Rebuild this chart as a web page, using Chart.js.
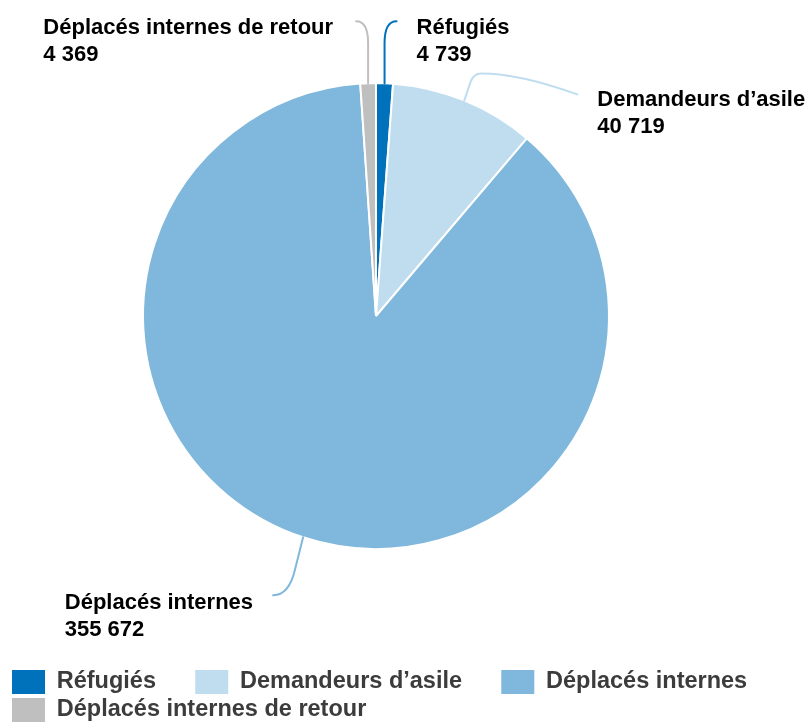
<!DOCTYPE html>
<html>
<head>
<meta charset="utf-8">
<script src="https://cdn.jsdelivr.net/npm/chart.js@4"></script>
<style>
  body { margin: 0; background: #fff; }
  canvas { display: block; }
</style>
</head>
<body>
<canvas id="myChart" width="811" height="726"></canvas>
<script>
const categories = ["Réfugiés", "Demandeurs d’asile", "Déplacés internes", "Déplacés internes de retour"];
const values = [4739, 40719, 355672, 4369];
const colors = ["#0072BC", "#BFDDEF", "#7FB8DC", "#BFBFBF"];

// leader line shapes, relative to the slice's outer midpoint
const callouts = [
  { path: [[0, -40], [0, -62, 12, -62]], side: "right", gap: 20, dy: 13 },
  { path: [[6, -18], [9, -27, 17, -27], [55, -27, 113, -6]], side: "right", gap: 20, dy: 12 },
  { path: [[-8, 32], [-14, 58, -30, 58]], side: "left", gap: 20, dy: 14 },
  { path: [[0, -40], [0, -62, -12, -62]], side: "left", gap: 23, dy: 13 },
];

function fmt(n) {
  return String(n).replace(/\B(?=(\d{3})+(?!\d))/g, " ");
}

const calloutPlugin = {
  id: "callouts",
  afterLayout(chart) {
    const cx = 376, cy = 316, r = 234;
    Object.assign(chart.chartArea, {
      left: cx - r, right: cx + r, top: cy - r, bottom: cy + r, width: 2 * r, height: 2 * r,
    });
    chart.legend.top += 6;
    chart.legend.bottom += 6;
  },
  afterDatasetsDraw(chart) {
    const ctx = chart.ctx;
    const meta = chart.getDatasetMeta(0);
    meta.data.forEach((arc, i) => {
      const p = arc.getProps(["x", "y", "startAngle", "endAngle", "outerRadius"], true);
      const mid = (p.startAngle + p.endAngle) / 2;
      const ax = p.x + Math.cos(mid) * p.outerRadius;
      const ay = p.y + Math.sin(mid) * p.outerRadius;
      const c = callouts[i];
      ctx.save();
      ctx.strokeStyle = colors[i];
      ctx.lineWidth = 2;
      ctx.lineCap = "round";
      ctx.beginPath();
      ctx.moveTo(ax, ay);
      c.path.forEach((s) => {
        if (s.length === 2) ctx.lineTo(ax + s[0], ay + s[1]);
        else ctx.quadraticCurveTo(ax + s[0], ay + s[1], ax + s[2], ay + s[3]);
      });
      ctx.stroke();
      const last = c.path[c.path.length - 1];
      const ex = ax + last[last.length - 2];
      const ey = ay + last[last.length - 1];
      ctx.font = 'bold 22px "Liberation Sans", Arial, sans-serif';
      ctx.fillStyle = "#000";
      ctx.textAlign = "left";
      ctx.textBaseline = "alphabetic";
      const lines = [categories[i], fmt(values[i])];
      const w = Math.max(...lines.map((t) => ctx.measureText(t).width));
      const tx = c.side === "left" ? ex - c.gap - w : ex + c.gap;
      lines.forEach((t, k) => ctx.fillText(t, tx, ey + c.dy + k * 27));
      ctx.restore();
    });
  },
};

const data = {
  labels: categories,
  datasets: [
    {
      data: values,
      backgroundColor: colors,
      borderColor: "#fff",
      borderWidth: 2,
      clip: false,
    },
  ],
};

const config = {
  type: "pie",
  data: data,
  options: {
    responsive: false,
    animation: false,
    layout: {
      padding: { left: 8, right: 0, top: 0, bottom: 0 },
    },
    plugins: {
      tooltip: { enabled: false },
      legend: {
        position: "bottom",
        align: "start",
        labels: {
          boxWidth: 33,
          boxHeight: 24,
          padding: 4,
          color: "#3c3c3c",
          font: { family: '"Liberation Sans", Arial, sans-serif', size: 23.5, weight: "bold" },
          generateLabels(chart) {
            const items = Chart.overrides.pie.plugins.legend.labels.generateLabels(chart);
            items.forEach((it) => {
              it.text = it.text + "\u2003\u2002";
              it.lineWidth = 0;
            });
            return items;
          },
        },
      },
    },
  },
  plugins: [calloutPlugin],
};

const myChart = new Chart(document.getElementById("myChart"), config);
</script>
</body>
</html>
